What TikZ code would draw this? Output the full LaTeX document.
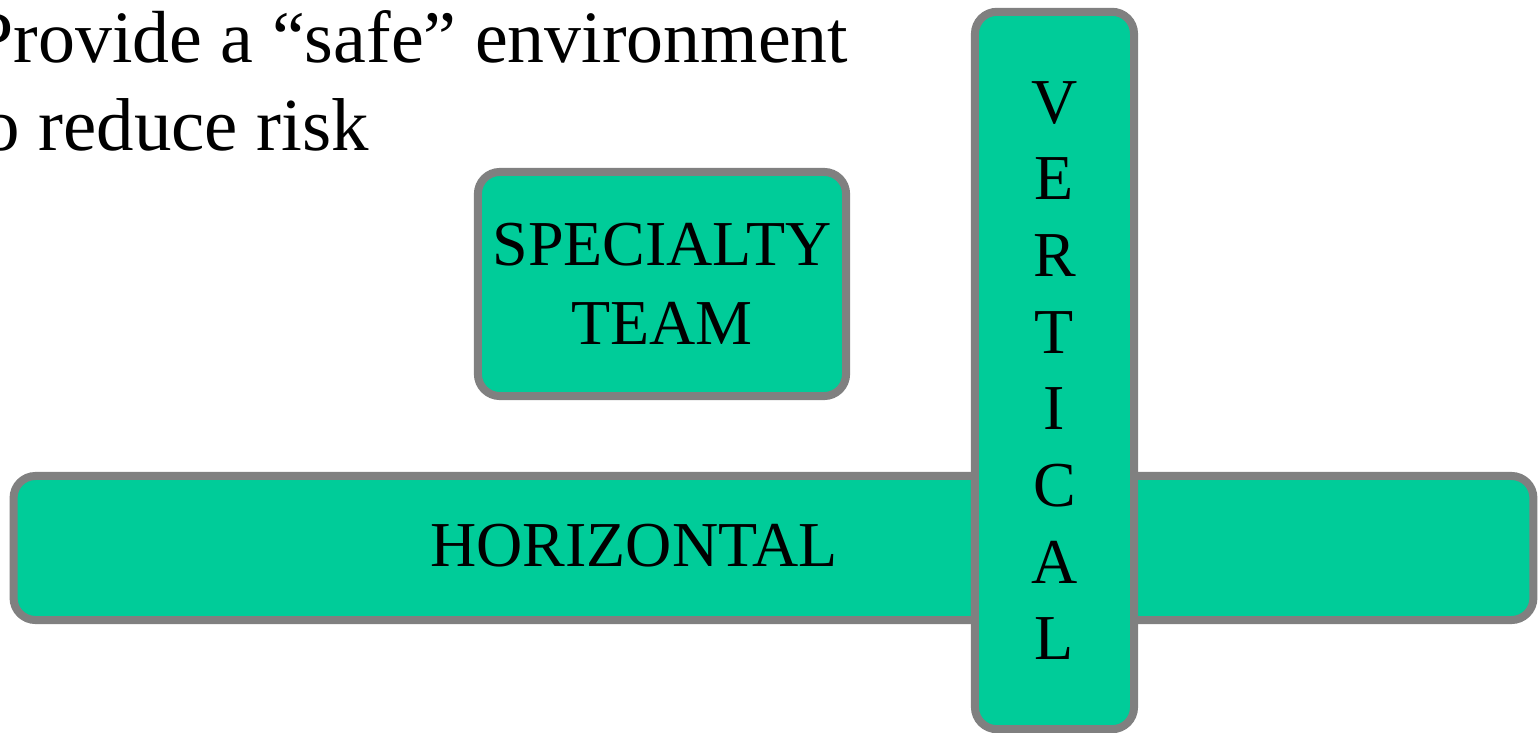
\documentclass[tikz,border=0pt]{standalone}
\usepackage{fontspec}
\setmainfont{Liberation Serif}
\definecolor{teamgreen}{RGB}{0,204,153}
\definecolor{rimgray}{RGB}{128,128,128}
\tikzset{panel/.style={draw=rimgray,fill=teamgreen,line width=0.08cm,rounded corners=0.22cm,inner sep=0pt},
  boxtext/.style={font=\fontsize{18.2}{21.8}\selectfont,align=center},
  topline/.style={anchor=base east,inner sep=0pt,font=\fontsize{21.3}{25}\selectfont}}

\begin{document}
\begin{tikzpicture}[x=0.01cm,y=-0.01cm]
\useasboundingbox (0,0) rectangle (1538,733);
\clip (0,0) rectangle (1538,733);
\node [topline,font=\fontsize{21}{25}\selectfont] (line1) at (849,62) {Provide a ``safe'' environment};
\node [topline] (line2) at (370,150) {to reduce risk};
\node [panel,minimum width=3.68cm,minimum height=2.24cm,boxtext,font=\fontsize{18.2}{22.5}\selectfont] (specialty) at (662,284) {SPECIALTY\\TEAM};
\node [panel,minimum width=15.19cm,minimum height=1.44cm] (horizontal) at (773.5,548) {};
\node [boxtext] (horiztext) at (634,546) {HORIZONTAL};
\node [panel,minimum width=1.59cm,minimum height=7.17cm,boxtext] (vertical) at (1054.5,370.5) {V\\E\\R\\T\\I\\C\\A\\L};
\end{tikzpicture}
\end{document}
